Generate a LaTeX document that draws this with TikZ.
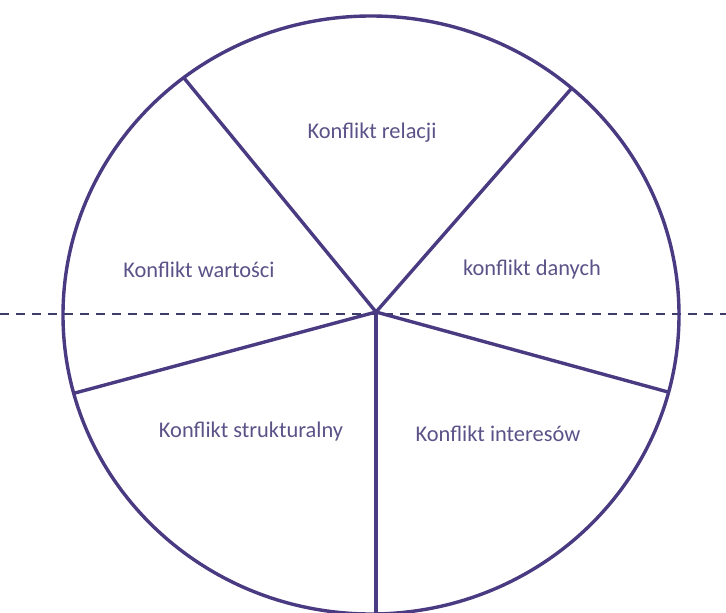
\documentclass[tikz,border=0pt]{standalone}
\usepackage{fontspec}
\setmainfont{Carlito}
\usetikzlibrary{calc}
\definecolor{PieRim}{HTML}{4A3A82}
\definecolor{PieText}{HTML}{5C5288}
\definecolor{PieAxis}{HTML}{3C3C66}

\begin{document}
\begin{tikzpicture}[
  x=1bp,y=-1bp,
  rim/.style={draw=PieRim,line width=3.4bp},
  spoke/.style={draw=PieRim,line width=3.4bp,line cap=round},
  axis/.style={draw=PieAxis,line width=1.3bp,dash pattern=on 9bp off 7bp},
  sector/.style={font=\fontsize{22.5}{26}\selectfont,text=PieText,inner sep=1pt}
]
  \useasboundingbox (0,0) rectangle (726,613);

  % Horizontal dashed axis through the hub.
  \coordinate (axisW) at (0,314);
  \coordinate (axisE) at (726,314);
  \draw[axis] (axisW) -- (axisE);

  % Outer rim.
  \draw[rim] (371,315) ellipse [x radius=308, y radius=299];

  % Hub and the five rim points.
  \coordinate (hub) at (376,312);
  \coordinate (rimNW) at (184,78);
  \coordinate (rimNE) at (571,89);
  \coordinate (rimW) at (75,393);
  \coordinate (rimE) at (668,392);
  \coordinate (rimS) at (376,613);
  \foreach \p in {rimNW,rimNE,rimW,rimE,rimS}
    \draw[spoke] (hub) -- (\p);

  % Sector labels.
  \node[sector] (relacji) at (372,133) {Konflikt relacji};
  \node[sector] (wartosci) at (199,270) {Konflikt wartości};
  \node[sector] (danych) at (532,270) {konflikt danych};
  \node[sector] (strukt) at (251,432) {Konflikt strukturalny};
  \node[sector] (inter) at (498,434) {Konflikt interesów};
\end{tikzpicture}
\end{document}
